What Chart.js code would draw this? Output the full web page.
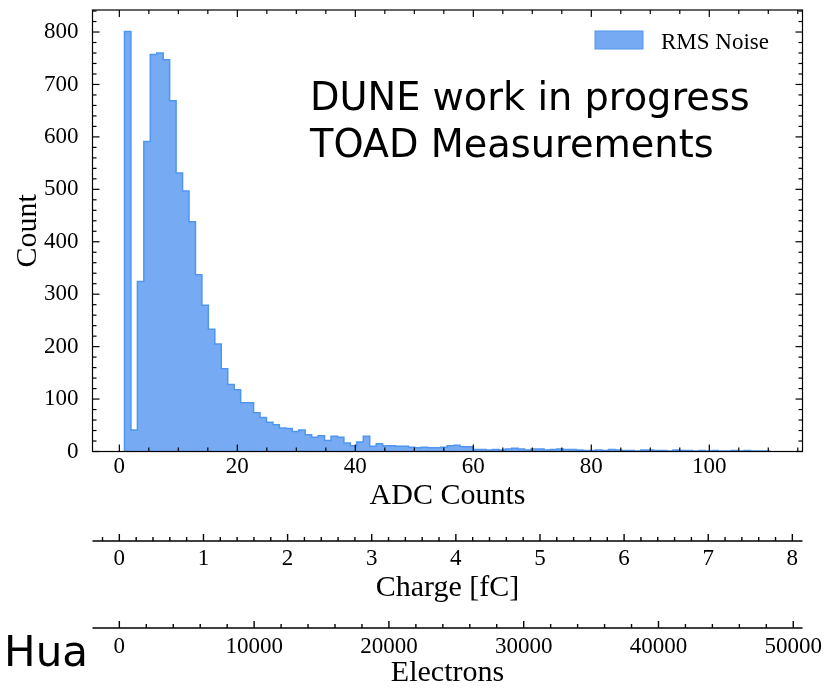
<!DOCTYPE html>
<html>
<head>
<meta charset="utf-8">
<script src="https://cdn.jsdelivr.net/npm/chart.js@4.4.0/dist/chart.umd.min.js"></script>
<style>
  html, body { margin: 0; padding: 0; background: #fff; }
  canvas { display: block; }
</style>
</head>
<body>
<canvas id="myChart" width="826" height="699"></canvas>
<script>
// histogram of RMS noise, 100 equal bins (ADC counts)
const binStart = 0.87;
const binWidth = 1.094;
const rmsCounts = [
  801, 41, 324, 591, 757, 760, 747, 669, 531, 497,
  438, 337, 279, 233, 205, 158, 128, 118, 93, 93,
  74, 65, 56, 51, 45, 44, 38, 41, 32, 27,
  30, 21, 29, 27, 16, 11, 18, 29, 10, 15,
  11, 11, 10, 10, 8, 7, 8, 7, 7, 8,
  11, 12, 9, 9, 4, 4, 3, 4, 3, 5,
  6, 5, 3, 5, 5, 3, 4, 5, 4, 4,
  3, 2, 2, 3, 2, 4, 3, 2, 2, 1,
  3, 3, 2, 2, 1, 3, 2, 2, 1, 2,
  1, 2, 1, 1, 2, 1, 2, 1, 1, 1
];

// tick labels
const adcTicks = [0, 20, 40, 60, 80, 100];
const countTicks = [0, 100, 200, 300, 400, 500, 600, 700, 800];
const chargeTicks = [0, 1, 2, 3, 4, 5, 6, 7, 8];
const electronTicks = [0, 10000, 20000, 30000, 40000, 50000];

// axis ranges and unit conversions
const adcRange = [-4.55, 115.8];
const countMax = 842;
const adcPerFc = 14.26;
const electronsPerFc = 6241.5;

const fcRange = adcRange.map(v => v / adcPerFc);
const eRange = fcRange.map(v => v * electronsPerFc);

// step outline points at bin edges
const histPoints = [{ x: binStart, y: 0 }];
rmsCounts.forEach((c, i) => histPoints.push({ x: binStart + i * binWidth, y: c }));
histPoints.push({ x: binStart + rmsCounts.length * binWidth, y: 0 });

const serif = '"Liberation Serif", "DejaVu Serif", serif';
const hand = '"DejaVu Sans", sans-serif';
const fill = 'rgb(118,171,243)';
const edge = 'rgb(80,150,240)';

const fixedTicks = list => s => { s.ticks = list.map(v => ({ value: v })); };
const fitBox = (w, h) => s => {
  if (w) s.width = w;
  if (h) s.height = h;
  s.paddingTop = s.paddingBottom = s.paddingLeft = s.paddingRight = 0;
};

function drawLine(ctx, x1, y1, x2, y2) {
  ctx.beginPath();
  ctx.moveTo(x1, y1);
  ctx.lineTo(x2, y2);
  ctx.stroke();
}

// ticks pointing into the frame, extra axis lines, legend and notes
const decorations = {
  id: 'decorations',
  afterDraw(chart) {
    const { ctx, chartArea: a, scales } = chart;
    ctx.save();
    ctx.strokeStyle = '#000';
    ctx.lineWidth = 1.2;
    ctx.strokeRect(a.left, a.top, a.right - a.left, a.bottom - a.top);

    const x = scales.x, y = scales.y;
    for (let i = Math.ceil(x.min / 5); i * 5 <= x.max; i++) {
      const px = x.getPixelForValue(i * 5);
      const len = i % 4 === 0 ? 7 : 4;
      drawLine(ctx, px, a.bottom, px, a.bottom - len);
      drawLine(ctx, px, a.top, px, a.top + len);
    }
    for (let i = 0; i * 20 <= y.max; i++) {
      const py = y.getPixelForValue(i * 20);
      const len = i % 5 === 0 ? 7 : 4;
      drawLine(ctx, a.left, py, a.left + len, py);
      drawLine(ctx, a.right, py, a.right - len, py);
    }

    // secondary axes: line with ticks pointing up
    const extra = [
      { s: scales.charge, minor: 0.2, every: 5 },
      { s: scales.electrons, minor: 2000, every: 5 }
    ];
    ctx.lineWidth = 1.4;
    extra.forEach(({ s, minor, every }) => {
      drawLine(ctx, a.left, s.top, a.right, s.top);
      for (let i = Math.ceil(s.min / minor); i * minor <= s.max; i++) {
        const px = s.getPixelForValue(i * minor);
        const len = i % every === 0 ? 7 : 4;
        drawLine(ctx, px, s.top, px, s.top - len);
      }
    });

    // legend
    ctx.fillStyle = fill;
    ctx.strokeStyle = edge;
    ctx.lineWidth = 1;
    ctx.fillRect(a.right - 207.5, 31, 48, 18);
    ctx.strokeRect(a.right - 207.5, 31, 48, 18);
    ctx.fillStyle = '#000';
    ctx.font = '23px ' + serif;
    ctx.textBaseline = 'alphabetic';
    ctx.fillText('RMS Noise', a.right - 141.5, 49);

    // annotations
    const line1 = 'DUNE work in progress';
    const line2 = 'TOAD Measurements';
    ctx.font = '35px ' + hand;
    const size = 35 * 440 / ctx.measureText(line1).width;
    ctx.font = size.toFixed(1) + 'px ' + hand;
    ctx.fillText(line1, 310, 110);
    ctx.fillText(line2, 310, 157);

    ctx.font = '42px ' + hand;
    ctx.textAlign = 'right';
    ctx.fillText('Hua', 88, 666);
    ctx.restore();
  }
};

const tickFont = { family: serif, size: 23 };
const titleFont = { family: serif, size: 30 };

const ctx = document.getElementById('myChart');
new Chart(ctx, {
  type: 'line',
  data: {
    datasets: [{
      label: 'RMS Noise',
      data: histPoints,
      stepped: true,
      fill: 'origin',
      backgroundColor: fill,
      borderColor: edge,
      borderWidth: 1.5,
      pointRadius: 0
    }]
  },
  options: {
    responsive: false,
    animation: false,
    layout: { padding: { top: 10, right: 23.5, bottom: 0, left: 0 } },
    plugins: { legend: { display: false }, tooltip: { enabled: false } },
    scales: {
      x: {
        type: 'linear', position: 'bottom', weight: 0,
        min: adcRange[0], max: adcRange[1],
        grid: { display: false }, border: { display: false },
        afterBuildTicks: fixedTicks(adcTicks),
        ticks: { autoSkip: false, maxRotation: 0, padding: -6, color: '#000', font: tickFont },
        title: { display: true, text: 'ADC Counts', color: '#000',
                 font: titleFont, padding: { top: 0, bottom: 27 } },
        afterFit: fitBox(0, 89.5)
      },
      charge: {
        type: 'linear', axis: 'x', position: 'bottom', weight: 1,
        min: fcRange[0], max: fcRange[1],
        grid: { display: false }, border: { display: false },
        afterBuildTicks: fixedTicks(chargeTicks),
        ticks: { autoSkip: false, maxRotation: 0, padding: -4, color: '#000', font: tickFont },
        title: { display: true, text: 'Charge [fC]', color: '#000',
                 font: titleFont, padding: { top: 0, bottom: 22 } },
        afterFit: fitBox(0, 87)
      },
      electrons: {
        type: 'linear', axis: 'x', position: 'bottom', weight: 2,
        min: eRange[0], max: eRange[1],
        grid: { display: false }, border: { display: false },
        afterBuildTicks: fixedTicks(electronTicks),
        ticks: { autoSkip: false, maxRotation: 0, padding: -3, color: '#000', font: tickFont,
                 callback: v => String(v) },
        title: { display: true, text: 'Electrons', color: '#000',
                 font: titleFont, padding: { top: 0, bottom: 8 } },
        afterFit: fitBox(0, 71)
      },
      y: {
        type: 'linear', position: 'left',
        min: 0, max: countMax,
        grid: { display: false }, border: { display: false },
        afterBuildTicks: fixedTicks(countTicks),
        ticks: { padding: 6, color: '#000', font: tickFont },
        title: { display: true, text: 'Count', color: '#000',
                 font: titleFont, padding: { top: 10, bottom: 0 } },
        afterFit: fitBox(92.5, 0)
      }
    }
  },
  plugins: [decorations]
});
</script>
</body>
</html>
